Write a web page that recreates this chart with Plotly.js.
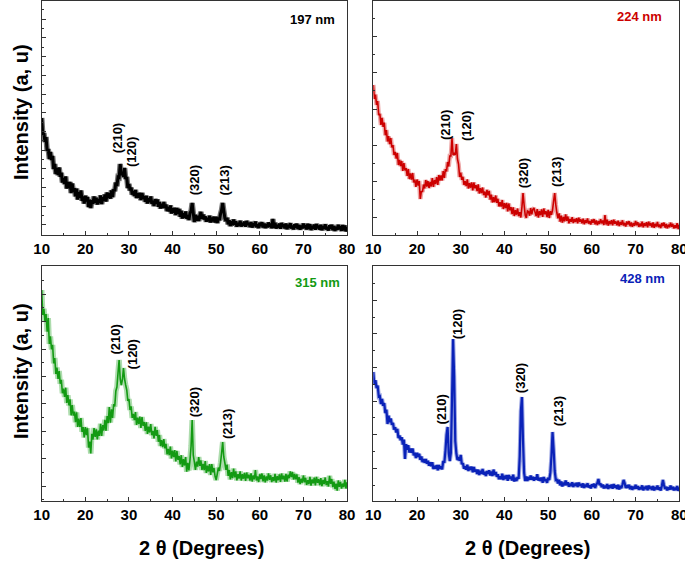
<!DOCTYPE html>
<html>
<head>
<meta charset="utf-8">
<script src="https://cdn.plot.ly/plotly-3.0.1.min.js"></script>
<style>html,body{margin:0;padding:0;background:#fff;}#chart{width:685px;height:561px;}</style>
</head>
<body>
<div id="chart"></div>
<script>
// 2-theta sampling grid: 10..80 deg, 0.25 deg step
const thetaStart = 10, thetaStep = 0.25;

// Intensity (a.u.), one row per degree (x.00, x.25, x.50, x.75)
const i197 = [
117,100,102,93, 98,84,86,76, 83,75,79,66, 71,61,67,60, 67.5,58.3,62.3,52.5,
57,51,58.5,46.5, 53,46.8,53,42, 51.5,43.3,46.8,38.6, 46.4,35.5,42.7,37.3, 44.5,34.2,38.6,31.5,
39.2,33.7,38,28, 35.3,27,34.9,31.3, 38.5,32.2,37.2,30.5, 35.9,31.9,39.6,31, 37.8,34.3,40.6,33.5,
42.5,37.2,41.8,36.4, 44.6,38,45.8,43.8, 52.5,48.9,57.9,57.5, 71,60,63,58, 67,56,58,47,
51,44.4,47.4,40.4, 43.8,39.2,45.1,37, 41.6,37.5,42.2,34.9, 42,36.3,39,33.3, 39.2,31.5,36.6,33,
38.5,31.2,34.3,29, 35.8,31.3,35.6,28.3, 33,26.5,31.2,27.1, 33,26.9,30.4,23.9, 27.8,23.7,29.6,21.5,
26.6,22.5,27.2,19.9, 27,21.3,26,18.3, 24.2,16.5,21.6,17.5, 23.5,16.2,19.8,15, 22,24,32,22,
13,20.2,14.2,19.3, 14,19,23,16.3, 20.5,15.6,18.6,13.4, 17.2,13.6,19.2,12.5, 17.4,13.8,18.3,12.4,
18.3,12,17.4,14.8, 21,25,32,24, 17,14,17.2,10.7, 14.8,9,13.6,9.9, 15.5,10.6,13.6,8.4,
12.2,9.4,14.2,8.5, 12.2,9.5,13.4,8.3, 14,10.1,12,8.1, 12.9,7.5,11.7,9, 13.5,7.9,10.6,7,
12.1,9.1,12.7,7.6, 11.5,7,10.9,7.7, 12.5,8.3,11.3,6.8, 16,7.4,12.2,6.5, 10.2,7.5,11.4,6.3,
12,8.1,10.5,6.6, 11.4,5.8,10,7.3, 11.8,6.6,9.3,5.6, 10.7,7.6,11.2,6.1, 9.9,5.4,9.3,6.5,
11.3,7,10,5.5, 11.1,6,10.8,5, 9.2,6.5,10.4,5.2, 10.9,7,9.3,5.4, 10.2,4.8,8.9,6.2,
10.7,5.5,8.2,4.5, 9.6,6.5,10.1,4.9, 8.8,4.2,8.1,5.3, 10.1,5.8,8.8,4.2, 9.9,4.7,9.5,3.7,
7.9
];

const i224 = [
150,136,140.4,130, 134,119.8,121.2,110, 117.2,108.2,112.4,99.7, 105,93.5,98.8,90.9, 97,87.5,90,80,
83,76.5,82,70, 75,69,74,64, 72,64.5,67,59, 66,56,61.5,55.5, 62,52.5,55.5,48,
55.5,49.5,54,36, 44,43,50.5,46.5, 55,48.5,54,47, 53,48.5,57,48, 55,51,58,50,
60,54.5,59.5,54.5, 64,57,66,63.5, 73,68.5,79,79, 97,80,82,80, 91,76,71,58,
62.5,55.2,58.2,50, 53.9,48.9,55.6,46.5, 51.8,47.3,52.6,44.5, 52.5,46.7,49.8,43.9, 50.6,41.5,46.8,41.8,
47.5,39.9,43.4,37.5, 45.2,39.7,44.1,35.4, 40.3,32.5,37.9,32.8, 39.5,32.2,36.2,28.5, 32.9,28.4,35,26,
31.8,26.8,32.1,23.5, 31.5,24.7,27.8,20.9, 27.6,19,24.8,20.3, 26.5,18.9,22.9,17.5, 28,42,30,20,
17,24,23.4,19.3, 27,20.7,25.7,27, 22.9,18.9,26,17.5, 23.8,19.8,25.6,18, 26.5,20.7,23.8,17.9,
25.1,17,23.8,20.3, 25,34,42,30, 22,16.7,21.6,13.4, 19.3,12.3,18,13.7, 20.7,14.2,18.5,11.6,
16,13.2,17.9,12, 15.9,13.1,16.9,11.7, 17.3,13.3,15.6,11.6, 16.3,10.8,14.9,12.1, 16.5,11.4,14,10.4,
15.4,12.3,15.9,10.7, 14.6,10,13.9,11.1, 15.9,11.6,14.6,10, 20,10.5,15.3,9.5, 13.7,10.9,14.8,9.6,
15.3,11.3,13.6,9.6, 14.4,8.9,13,10.2, 14.7,9.5,12.1,8.4, 13.5,10.4,13.9,8.8, 12.6,8.1,11.9,9.2,
14,9.7,12.7,8.1, 11.4,8.6,13.4,7.6, 11.8,9,12.9,7.7, 13.4,9.4,11.8,7.8, 12.6,7.1,11.3,8.5,
13,7.9,10.5,6.9, 11.9,8.9,12.4,7.3, 11.1,6.6,10.4,7.7, 12.4,8.2,11.1,6.6, 9.8,7,11.8,6,
10.2
];

const i315 = [
211,186,192.2,180, 187,169.4,183,157, 164.6,151.6,156.2,137.6, 143,127,133.4,122.2, 130,117.2,121.2,107.7,
112.4,104.1,113.3,98, 105.8,95.5,101.6,85.7, 96,85.4,89.5,78.9, 88.6,74,82.3,74, 83,69.1,73.9,63.5,
73.9,65.9,72.8,53.4, 59.5,47.5,67.1,61.3, 73,64.2,71.7,61.7, 70.4,65.1,77.3,65, 75.8,70.5,81.1,70.2,
85,77.9,94,78.4, 91.6,83,96.8,94.5, 110,114,128,141, 122,116,121,133, 122,116,111,100,
102,91.1,94.6,83.1, 87.2,80.8,88.9,76, 83.4,77,84.3,73.1, 84,75.2,79,70.2, 78.8,67,74.4,68.5,
77,65.8,70.2,62.5, 74.2,65.2,70.9,59.2, 66,55,60.8,53.9, 62,52.6,57.1,46.6, 52.2,45.8,54.4,42.5,
50.4,44,50.8,39.6, 50,41.2,45,36.7, 45.8,34,41.9,35.5, 44,29.3,38.2,30.5, 41,55,81,46,
39,31,39.3,34.4, 44,35.1,40.6,31.1, 37.2,30.8,39.9,28, 35.4,29.5,36.8,26.1, 37,28.7,33,24.7,
21,27,33.4,30, 38,48,59,44, 38,31.2,36.4,25.2, 31,21.5,28.8,22.9, 32.5,23.6,29.6,20.6,
26.9,22.4,29.6,20.5, 26.8,22.3,28.1,20, 28.5,22.7,26.3,20.4, 27.6,19.5,25.6,21.6, 31,20.5,24.5,19,
26.7,22,27.5,19.7, 25.6,18.7,24.6,20.4, 27.6,21.2,25.7,19, 23.9,19.9,27.1,18.5, 24.8,20.8,26.6,19,
27.5,21.7,25.3,19.4, 27.1,19.5,26.3,22.8, 29.5,23.9,28.9,21.5, 27.2,21.7,26.6,18.4, 23.8,17,22.4,18.3,
25.5,18.7,23.2,16, 20.9,16.9,24.1,15.4, 21.6,17.6,23.3,15.6, 24.1,18.2,21.8,15.8, 22.9,14.8,21,16.9,
23.5,15.9,19.9,14.5, 25.2,17.2,22,13.9, 19.3,12,17.4,10.3, 20.5,14.2,19.2,12.5, 17.4,13.9,21.1,12.5,
18.8
];

const i428 = [
129,116.5,120.8,112.8, 115.5,104.4,104.9,97, 102.2,95.2,98,87.9, 91.3,77,85.4,78.8, 82.5,76.1,78.1,71.4,
73.7,68.6,72.2,63, 65.4,60.8,63.8,56.4, 61.5,42,56.8,51.2, 55.8,48.5,52.4,48.3, 52.5,45.6,48.2,43,
48.1,44.1,47.2,41.1, 44.5,39,41.9,38.2, 42,37.3,40.3,35.3, 38.6,34.9,38.7,32, 35.2,32.5,35.9,30.8,
36,32.1,34.5,31.6, 40,38,50,66, 74,48,40,48, 100,162,125,60, 47.5,41,43.9,40.2,
46,36.8,37.8,32.3, 34.6,31.4,36.2,30, 34.2,31,34.4,28.8, 34,29.6,31.5,27.1, 31.4,26,30.2,27.5,
32,26.4,29.1,25, 30.1,27.1,30.7,25.6, 29.5,25,31.4,26.2, 29,24.3,26.8,21.8, 24.6,21.9,27.2,21,
25.2,22,25.9,20.3, 26,22.1,24.5,20.6, 26.4,19.5,23.2,20, 24,22,45,90, 104,60,28,20,
24.5,20,23.9,21.2, 25.5,21.3,24.3,20.3, 23.6,21.4,26.7,20.5, 23.2,20,23.4,18.3, 24,20.1,22,18.1,
23.4,21,28,45, 69,52,30,21, 21.1,17.6,21.2,15.6, 19.5,14.5,18.4,15.7, 20.5,15.8,18.8,14.3,
17.5,14.8,18.8,14, 17.4,15.1,18.2,13.9, 18.5,15.2,17.1,13.7, 17.6,13,16.5,14.2, 17.8,13.5,15.7,12.6,
16.8,14.3,17.3,13, 16.3,18,22,16, 17.5,13.9,16.4,12.6, 15.3,13,17,12.1, 15.6,13.3,16.5,12.2,
16.9,13.6,15.6,12.2, 16.2,11.6,15.1,12.8, 16.5,21,18,13, 15.8,13.2,16.2,11.8, 15,11.2,14.5,12.1,
16.1,12.5,15,11.2, 13.9,11.6,15.6,10.7, 14.2,11.9,15.1,10.8, 15.5,12.3,14.3,11, 15,10.5,14,11.8,
15.5,11.3,13.5,10.5, 15,21,16,12, 14.3,10.5,13.7,11.4, 15.4,11.8,14.3,10.6, 13.3,11,15,10.2,
13.7
];

const panelLabels = ['197 nm', '224 nm', '315 nm', '428 nm'];
const panelColors = ['#000000', '#cc0000', '#139a13', '#0a22b8'];
const haloColors = ['rgba(0,0,0,0.55)', 'rgba(204,0,0,0.35)', 'rgba(19,154,19,0.35)', 'rgba(10,34,184,0.4)'];
const hklLabels = ['(210)', '(120)', '(320)', '(213)'];
const series = [i197, i224, i315, i428];

function grid(n) { const g = []; for (let i = 0; i < n; i++) g.push(thetaStart + i * thetaStep); return g; }

const lineWidths = [3.0, 1.6, 1.6, 2.2];
const haloWidths = [5.5, 4.5, 5.5, 4.2];
const axisIds = [['x', 'y'], ['x2', 'y2'], ['x3', 'y3'], ['x4', 'y4']];

const traces = [];
series.forEach((s, k) => {
  const xs = grid(s.length);
  traces.push({
    type: 'scatter', mode: 'lines', x: xs, y: s,
    xaxis: axisIds[k][0], yaxis: axisIds[k][1],
    line: {color: haloColors[k], width: haloWidths[k], simplify: false},
    hoverinfo: 'skip', showlegend: false
  });
  traces.push({
    type: 'scatter', mode: 'lines', x: xs, y: s,
    xaxis: axisIds[k][0], yaxis: axisIds[k][1],
    line: {color: panelColors[k], width: lineWidths[k], simplify: false},
    hoverinfo: 'skip', showlegend: false
  });
});

const FONT = 'Liberation Sans, Arial, Helvetica, sans-serif';
const W = 685, H = 561;
const px = v => v / W, py = v => 1 - v / H;

function xax(dom, anchor) {
  return {domain: dom, anchor: anchor, range: [10, 80], tick0: 10, dtick: 10,
    ticks: 'inside', ticklen: 4, tickwidth: 1, tickcolor: '#333',
    minor: {ticks: 'inside', ticklen: 2, dtick: 5, tickcolor: '#333'},
    showline: true, linecolor: '#333', linewidth: 1, mirror: true,
    showgrid: false, zeroline: false, ticklabeloverflow: 'allow',
    tickfont: {family: FONT, size: 15, color: '#000', weight: 'bold'}};
}
function yax(dom, anchor, top, t0, dt) {
  return {domain: dom, anchor: anchor, range: [0, top], tick0: t0, dtick: dt,
    ticks: 'inside', ticklen: 4, tickwidth: 1, tickcolor: '#333',
    minor: {ticks: 'inside', ticklen: 2, dtick: dt / 2, tick0: t0, tickcolor: '#333'},
    showticklabels: false, showline: true, linecolor: '#333', linewidth: 1, mirror: true,
    showgrid: false, zeroline: false};
}

const colL = [px(41.7), px(347)], colR = [px(373.3), px(679.3)];
const rowT = [py(235), py(1)], rowB = [py(501), py(266)];

const annotations = [];
// panel size labels
const sizePos = [[312, 19.5], [639, 16], [317, 282], [642, 278]];
panelLabels.forEach((t, k) => annotations.push({
  xref: 'paper', yref: 'paper', x: px(sizePos[k][0]), y: py(sizePos[k][1]),
  xanchor: 'center', yanchor: 'middle', showarrow: false, text: t,
  font: {family: FONT, size: 13, color: panelColors[k], weight: 'bold'}
}));
// hkl peak labels (data coordinates of label centres)
const hklPos = [
  [[27.3, 97], [30.5, 83], [45.0, 55], [51.9, 55]],
  [[26.4, 110], [31.2, 109], [44.3, 62], [51.8, 63]],
  [[26.7, 161], [30.8, 147], [45.0, 99], [52.5, 77]],
  [[25.6, 92], [29.2, 177], [43.6, 123], [52.3, 90]]
];
hklPos.forEach((arr, k) => arr.forEach((p, j) => annotations.push({
  xref: axisIds[k][0], yref: axisIds[k][1], x: p[0], y: p[1],
  xanchor: 'center', yanchor: 'middle', showarrow: false, text: hklLabels[j], textangle: -90,
  font: {family: FONT, size: 13, color: '#000', weight: 'bold'}
})));
// axis titles
[[112], [371]].forEach(r => annotations.push({
  xref: 'paper', yref: 'paper', x: px(21), y: py(r[0]), xanchor: 'center', yanchor: 'middle',
  showarrow: false, text: 'Intensity (a, u)', textangle: -90,
  font: {family: FONT, size: 20, color: '#000', weight: 'bold'}
}));
[[201], [527]].forEach(c => annotations.push({
  xref: 'paper', yref: 'paper', x: px(c[0]), y: py(548), xanchor: 'center', yanchor: 'middle',
  showarrow: false, text: '2 θ (Degrees)',
  font: {family: FONT, size: 20, color: '#000', weight: 'bold'}
}));

const layout = {
  width: W, height: H, margin: {l: 0, r: 0, t: 0, b: 0},
  paper_bgcolor: '#fff', plot_bgcolor: '#fff', showlegend: false,
  xaxis: xax(colL, 'y'), yaxis: yax(rowT, 'x', 234, 10.1, 18.7),
  xaxis2: xax(colR, 'y2'), yaxis2: yax(rowT, 'x2', 234, 17.7, 36.1),
  xaxis3: xax(colL, 'y3'), yaxis3: yax(rowB, 'x3', 235, 15, 27.4),
  xaxis4: xax(colR, 'y4'), yaxis4: yax(rowB, 'x4', 235, 32.7, 33.6),
  annotations: annotations
};

Plotly.newPlot('chart', traces, layout, {displayModeBar: false, staticPlot: true});
</script>
</body>
</html>
